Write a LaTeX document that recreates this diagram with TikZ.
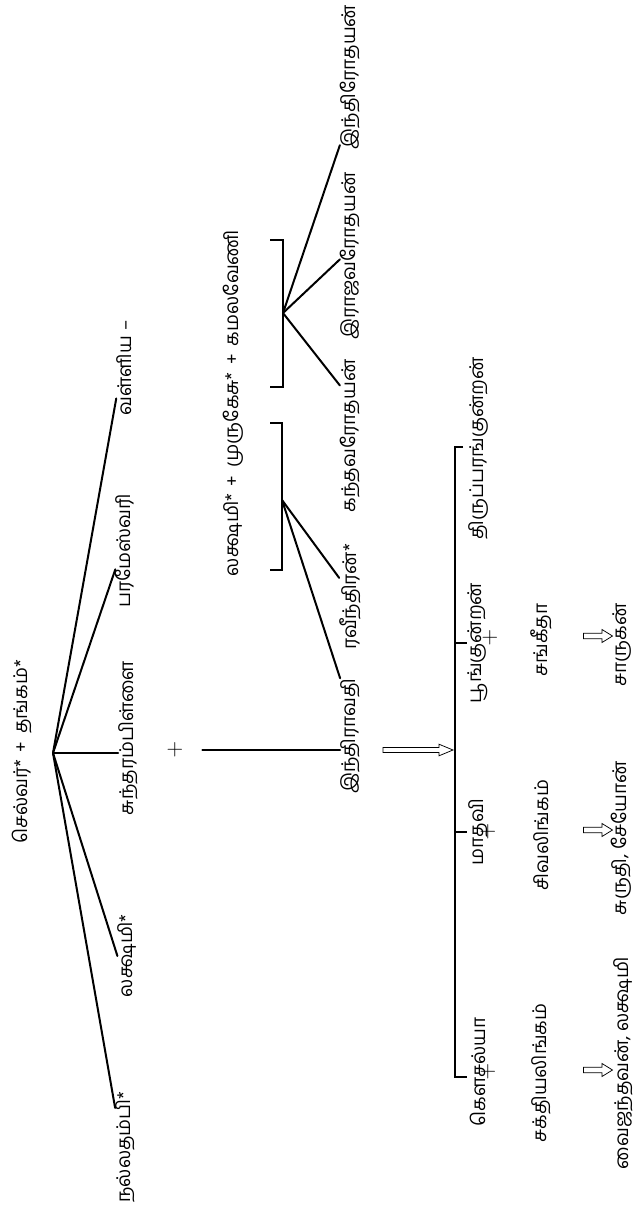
\documentclass[tikz,border=0pt]{standalone}
\usepackage{fontspec}
\newfontfamily\tam[Script=Tamil]{Hind Madurai}
\usetikzlibrary{calc}
\begin{document}
\begin{tikzpicture}[x=1pt,y=-1pt,
  lbl/.style={rotate=90, inner sep=0pt, font=\tam\fontsize{19}{19}\selectfont},
  ln/.style={line width=2pt, line cap=round},
  brk/.style={line width=2.4pt},
  plus/.style={inner sep=0pt, font=\fontsize{23}{23}\selectfont},
  bigharrow/.pic={\draw[line width=0.75pt, line join=miter] (-35,-2.6) -- (21,-2.6) -- (21,-5.8) -- (35,0) -- (21,5.8) -- (21,2.6) -- (-35,2.6) -- cycle;},
  smallharrow/.pic={\draw[line width=0.75pt, line join=miter] (-14.5,-2.8) -- (4,-2.8) -- (4,-6.5) -- (14.5,0) -- (4,6.5) -- (4,2.8) -- (-14.5,2.8) -- cycle;}]
\useasboundingbox (0,0) rectangle (637,1210);
% root
\coordinate (F) at (53,753);
\node[lbl] (root) at (22,752) {செல்வர்*\, + \,தங்கம்*};
% first generation
\node[lbl] (nal) at (125,1147) {நல்லதம்பி*};
\node[lbl] (lak1) at (127,956) {லக்ஷமி*};
\node[lbl] (sun) at (128,738) {சுந்தரம்பிள்ளை};
\node[lbl] (par) at (125,551) {பரமேஸ்வரி};
\node[lbl] (val) at (124,368) {வள்ளிய –};
\draw[ln] (F) -- ($(nal.north east)!0.15!(nal.north west)$);
\draw[ln] (F) -- (lak1.north);
\draw[ln] (F) -- (F -| sun.north);
\draw[ln] (F) -- ($(par.north east)!0.66!(par.north west)$);
\draw[ln] (F) -- ($(val.north east)!0.82!(val.north west)$);
% marriage line
\node[plus] (pl1) at (175,750) {+};
\node[lbl] (lab) at (233,403) {லக்ஷமி*\, + \,முருகேசு*\, + \,கமலவேணி};
% second generation
\node[lbl] (ind) at (350,736) {இந்திராவதி};
\node[lbl] (ravi) at (350,597) {ரவீந்திரன்*};
\node[lbl] (kan) at (350,436) {கந்தவரோதயன்};
\node[lbl] (raj) at (350,256) {இராஜவரோதயன்};
\node[lbl] (ind2) at (350,77) {இந்திரோதயன்};
\draw[ln] ([xshift=19pt]pl1.east) -- (pl1.east -| ind.north);
\draw[brk] (270,423) -- (282,423) -- (282,570) -- (270,570);
\coordinate (B1) at (282,500);
\draw[ln] (B1) -- (ind.north east);
\draw[ln] (B1) -- ($(ravi.north east)!0.32!(ravi.north west)$);
\draw[brk] (270,240) -- (283,240) -- (283,387) -- (270,387);
\coordinate (B2) at (283,313);
\draw[ln] (B2) -- ($(kan.north east)!0.17!(kan.north west)$);
\draw[ln] (B2) -- ($(raj.north east)!0.52!(raj.north west)$);
\draw[ln] (B2) -- ($(ind2.north east)!0.97!(ind2.north west)$);
% arrow to third generation
\pic (a1) at (418,750) {bigharrow};
% third generation
\draw[brk] (463,447) -- (455,447) -- (455,1077) -- (467,1077);
\draw[brk] (455,643) -- (467,643);
\draw[brk] (455,832) -- (467,832);
\node[lbl] (tir) at (478,448) {திருப்பரங்குன்றன்};
\node[lbl] (poo) at (478,643) {பூங்குன்றன்};
\node[lbl] (mat) at (478,832) {மாதவி};
\node[lbl] (kau) at (478,1072) {கௌசல்யா};
\node[plus] (p2) at (488,1072) {+};
\node[plus] (p3) at (488,832) {+};
\node[plus] (p4) at (490,638) {+};
% spouses
\node[lbl] (sak) at (541,1073) {சக்தியலிங்கம்};
\node[lbl] (siv) at (541,835) {சிவலிங்கம்};
\node[lbl] (san) at (541,640) {சங்கீதா};
% arrows
\pic (a2) at (598,1070) {smallharrow};
\pic (a3) at (598,830) {smallharrow};
\pic (a4) at (598,636) {smallharrow};
% fourth generation
\node[lbl] (vai) at (623,1063) {வைஜந்தவன், லக்ஷமி};
\node[lbl] (sur) at (621,838) {சுருதி, சேயோன்};
\node[lbl] (saru) at (622,645) {சாருகன்};
\end{tikzpicture}
\end{document}
